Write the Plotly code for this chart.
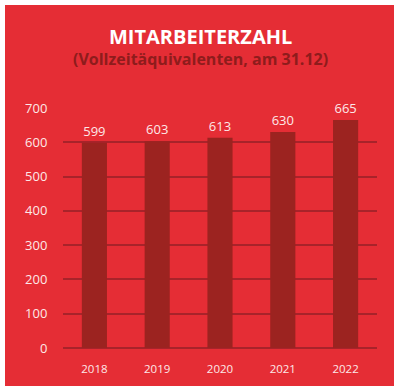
import plotly.graph_objects as go

years = ["2018", "2019", "2020", "2021", "2022"]
employees = [599, 603, 613, 630, 665]
y_ticks = [0, 100, 200, 300, 400, 500, 600, 700]

BG = "#e52d35"
BAR = "#9c2320"
GRID = "#a8232a"
TXT = "#fde8e8"

W, H = 400, 392
L, R, T, B = 63, 23, 108, 44
pw, ph = W - L - R, H - T - B

def px_to_paper_x(px):
    return (px - L) / pw

def px_to_paper_y(py):
    return (H - B - py) / ph

fig = go.Figure(go.Bar(
    x=years, y=employees,
    marker=dict(color=BAR, line=dict(width=0)),
    text=[str(v) for v in employees],
    textposition="outside",
    textfont=dict(color=TXT, size=13, family="Open Sans"),
    cliponaxis=False,
))

fig.add_shape(type="rect", xref="paper", yref="paper",
              x0=px_to_paper_x(5), x1=px_to_paper_x(394),
              y0=px_to_paper_y(386), y1=px_to_paper_y(5),
              fillcolor=BG, line=dict(width=0), layer="below")

fig.add_annotation(text="<b>MITARBEITERZAHL</b>", xref="paper", yref="paper",
                   x=px_to_paper_x(200), y=px_to_paper_y(37), showarrow=False,
                   font=dict(color="white", size=20, family="Open Sans"),
                   xanchor="center", yanchor="middle")
fig.add_annotation(text="<b>(Vollzeitäquivalenten, am 31.12)</b>", xref="paper", yref="paper",
                   x=px_to_paper_x(200), y=px_to_paper_y(59), showarrow=False,
                   font=dict(color="#8e1c1c", size=16, family="Open Sans"),
                   xanchor="center", yanchor="middle")

fig.update_layout(
    width=W, height=H,
    margin=dict(l=L, r=R, t=T, b=B),
    paper_bgcolor="white", plot_bgcolor=BG,
    showlegend=False,
    bargap=0.6,
    xaxis=dict(showgrid=False, showline=False, zeroline=False,
               tickfont=dict(color=TXT, size=11.5, family="Open Sans"),
               ticks="outside", ticklen=10, tickcolor="rgba(0,0,0,0)"),
    yaxis=dict(range=[0, 700], tickvals=y_ticks, showgrid=True, gridcolor=GRID, gridwidth=1.5,
               zeroline=True, zerolinecolor=GRID, zerolinewidth=2,
               tickfont=dict(color=TXT, size=13, family="Open Sans"),
               ticks="outside", ticklen=12, tickcolor="rgba(0,0,0,0)"),
)

fig.write_html("out.html", config={"displayModeBar": False},
               post_script="document.body.style.margin='0';document.body.style.overflow='hidden';")
